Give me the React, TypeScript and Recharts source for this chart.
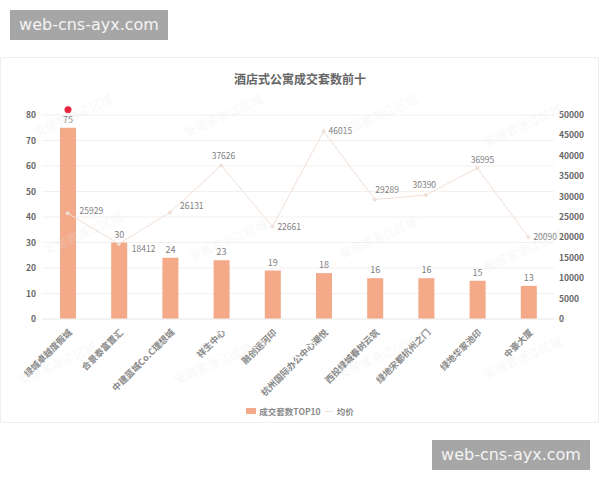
import { Bar, CartesianGrid, ComposedChart, LabelList, Legend, Line, XAxis, YAxis } from 'recharts'

const FONT = '"Noto Sans CJK SC", "Noto Sans", sans-serif'
const BAR_COLOR = '#F4A988'
const LINE_COLOR = '#F1E0D7'
const TEXT_COLOR = '#808080'

const projects = ['绿城卓越度假城', '合景泰富置汇', '中建蓝城Co.C理想城', '祥生中心', '融创运河印', '杭州国际办公中心潮悦', '西投绿城春树云筑', '绿地宋都杭州之门', '绿地华家池印', '中豪大厦']
const deals = [75, 30, 24, 23, 19, 18, 16, 16, 15, 13]
const prices = [25929, 18412, 26131, 37626, 22661, 46015, 29289, 30390, 36995, 20090]
const dealTicks = [0, 10, 20, 30, 40, 50, 60, 70, 80]
const priceTicks = [0, 5000, 10000, 15000, 20000, 25000, 30000, 35000, 40000, 45000, 50000]
const watermarkText = '安居客浙江区域'

// where each price label sits relative to its dot
const priceLabelOffsets = [[12, -2], [13, 5], [10, -6], [-9.5, -9], [5, 0], [5, 0], [0.5, -10], [-13.5, -10], [-6.5, -8], [5, 0]]
const watermarkSpots = [
  [73, 115], [223, 115], [378, 115], [523, 125],
  [83, 233], [228, 240], [378, 237], [523, 250],
  [57, 363], [213, 363], [377, 357], [523, 357],
]

const data = projects.map((name, i) => ({ name, deals: deals[i], price: prices[i] }))

function ProjectTick({ x, y, payload }: any) {
  return (
    <text x={x + 5} y={y + 6} transform={`rotate(-45 ${x + 5} ${y + 6})`} textAnchor="end" fontSize={9} fontWeight={700} fontFamily={FONT} fill="#8A8A8A">
      {payload.value}
    </text>
  )
}

function DealLabel({ x, y, width, value, index }: any) {
  const cx = x + width / 2
  return (
    <g>
      {index === 0 && <circle cx={cx} cy={y - 18} r={3.5} fill="#E8243C" />}
      <text x={cx} y={y - 5} textAnchor="middle" fontSize={9} fontFamily={FONT} fill={TEXT_COLOR}>{value}</text>
    </g>
  )
}

function PriceLabel({ x, y, value, index }: any) {
  const [dx, dy] = priceLabelOffsets[index]
  return (
    <text x={x + dx} y={y + dy + 3} fontSize={8.5} fontFamily={FONT} fill={TEXT_COLOR}>
      {value}
    </text>
  )
}

function ChartLegend() {
  return (
    <div style={{ display: 'flex', justifyContent: 'center', alignItems: 'center', fontSize: 8.5, fontWeight: 700, fontFamily: FONT, color: '#8A8A8A', height: 14 }}>
      <span style={{ width: 10, height: 6, background: BAR_COLOR, marginRight: 3 }} />
      <span>成交套数TOP10</span>
      <span style={{ width: 8, height: 1, background: LINE_COLOR, margin: '0 4px' }} />
      <span>均价</span>
    </div>
  )
}

function UrlBadge({ left, top }: { left: number; top: number }) {
  return (
    <div style={{ position: 'absolute', left, top, width: 158, height: 30, background: '#A6A6A6', color: '#F4F4F4', fontFamily: '"DejaVu Sans", sans-serif', fontSize: 16, lineHeight: '30px', textAlign: 'center' }}>
      web-cns-ayx.com
    </div>
  )
}

export default function App() {
  const tickStyle = { fontSize: 8.5, fontWeight: 700, fill: '#666', fontFamily: FONT }
  return (
    <div style={{ position: 'absolute', left: 0, top: 0, width: 600, height: 480, background: '#fff', overflow: 'hidden' }}>
      <div style={{ position: 'absolute', left: 0, top: 57, width: 597, height: 364, border: '1px solid #EFEFEF', boxSizing: 'content-box' }} />
      <div style={{ position: 'absolute', left: 0, top: 70, width: 600, textAlign: 'center', fontFamily: FONT, fontSize: 12, fontWeight: 700, color: '#666', lineHeight: '18px' }}>
        酒店式公寓成交套数前十
      </div>
      <div style={{ position: 'absolute', left: 0, top: 0 }}>
        <ComposedChart width={600} height={480} data={data} margin={{ top: 115, right: 0, bottom: 0, left: 0 }}>
          <CartesianGrid yAxisId="deals" vertical={false} stroke="#F3F0EE" />
          <XAxis dataKey="name" interval={0} height={147} tick={<ProjectTick />} axisLine={{ stroke: '#EEE' }} tickLine={false} />
          <YAxis yAxisId="deals" width={42} domain={[0, 80]} ticks={dealTicks} axisLine={false} tickLine={false} tickSize={0} tickMargin={6} tick={tickStyle} />
          <YAxis yAxisId="price" orientation="right" width={46} domain={[0, 50000]} ticks={priceTicks} axisLine={false} tickLine={false} tickSize={0} tickMargin={5} tick={tickStyle} />
          <Bar yAxisId="deals" dataKey="deals" name="成交套数TOP10" fill={BAR_COLOR} barSize={16} isAnimationActive={false}>
            <LabelList dataKey="deals" content={<DealLabel />} />
          </Bar>
          <Line yAxisId="price" dataKey="price" name="均价" stroke={LINE_COLOR} strokeWidth={1} dot={{ r: 1.5, fill: LINE_COLOR, stroke: LINE_COLOR }} isAnimationActive={false}>
            <LabelList dataKey="price" content={<PriceLabel />} />
          </Line>
          <Legend content={<ChartLegend />} wrapperStyle={{ top: 404, left: 0, width: 600 }} />
        </ComposedChart>
      </div>
      {watermarkSpots.map(([x, y], i) => (
        <div key={i} style={{ position: 'absolute', left: x - 45, top: y - 8, width: 90, textAlign: 'center', fontFamily: FONT, fontSize: 12, lineHeight: '16px', color: 'rgba(228,228,228,.3)', transform: 'rotate(-24deg)' }}>
          {watermarkText}
        </div>
      ))}
      <UrlBadge left={10} top={10} />
      <UrlBadge left={432} top={440} />
    </div>
  )
}
